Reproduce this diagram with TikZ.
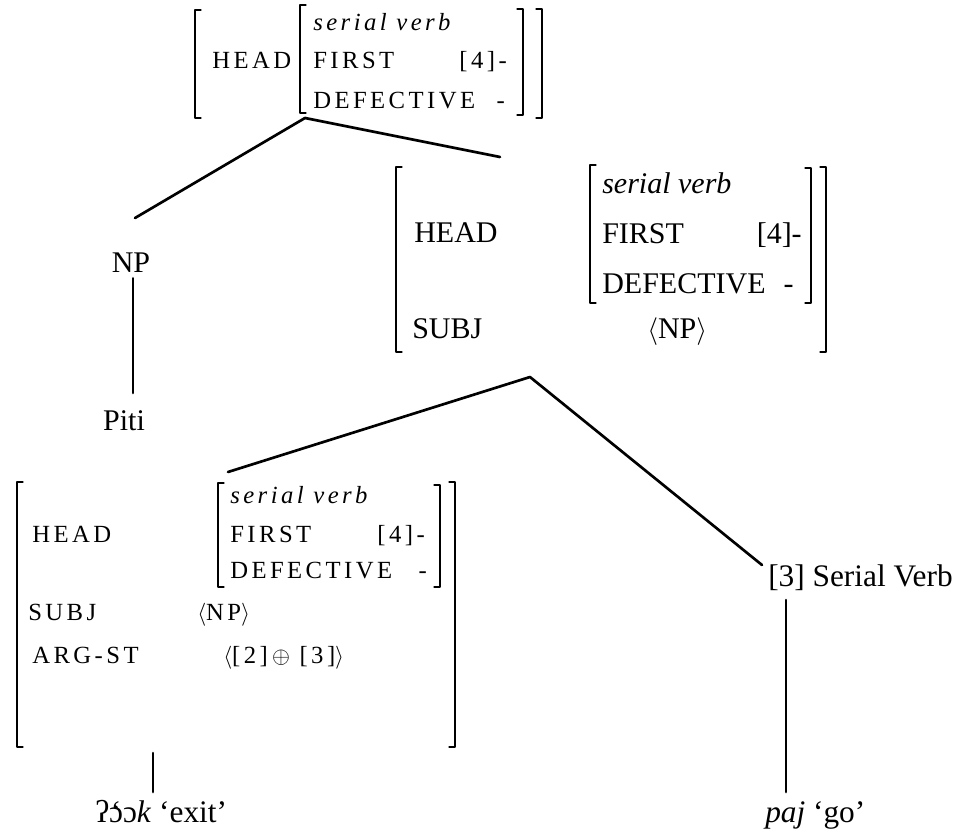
\documentclass[tikz,border=0pt]{standalone}
\usepackage{fontspec}
\setmainfont{Liberation Serif}
\newfontfamily\trackfont[LetterSpace=14]{Liberation Serif}
\begin{document}
\begin{tikzpicture}[x=0.75pt, y=-0.75pt, line join=round, line cap=round,
    big/.style={inner sep=0pt, anchor=base west, font=\fontsize{22.5}{26}\selectfont},
    leaf/.style={big, font=\fontsize{23.5}{27}\selectfont},
    small/.style={inner sep=0pt, anchor=base west, font=\fontsize{18.5}{22}\selectfont\trackfont},
    branch/.style={line width=2pt},
    brk/.style={line width=0.9pt}]
    \def\lbr#1#2#3{\draw[brk] (#1+6,#2) -- (#1,#2) -- (#1,#3) -- (#1+6,#3);}
    \def\rbr#1#2#3{\draw[brk] (#1-6,#2) -- (#1,#2) -- (#1,#3) -- (#1-6,#3);}
    \useasboundingbox (0,0) rectangle (965,833);
    % top AVM
    \lbr{195}{10}{118} \rbr{542}{9}{118}
    \lbr{300}{5}{113} \rbr{523}{9}{115}
    \node[small] (tHead) at (212,68) {HEAD};
    \node[small] (tType) at (313,30) {\itshape serial verb};
    \node[small] (tFirst) at (313,68) {FIRST};
    \node[small, anchor=base east] (tFirstV) at (507,68) {[4]-};
    \node[small] (tDef) at (313,108) {DEFECTIVE};
    \node[small, anchor=base east] (tDefV) at (505,108) {-};
    \coordinate (root) at (305,118);
    % middle AVM
    \lbr{396}{167}{352} \rbr{826}{167}{352}
    \lbr{590}{165}{303} \rbr{811}{168}{303}
    \node[big] (mHead) at (414,242) {HEAD};
    \node[big] (mType) at (602,193) {\itshape serial verb};
    \node[big] (mFirst) at (602,243) {FIRST};
    \node[big, anchor=base east] (mFirstV) at (802,243) {[4]-};
    \node[big] (mDef) at (602,293) {DEFECTIVE};
    \node[big, anchor=base east] (mDefV) at (794,293) {-};
    \node[big] (mSubj) at (412,338) {SUBJ};
    \node[big] (mSubjV) at (647,338) {$\langle$NP$\rangle$};
    \coordinate (vp) at (530,377);
    % bottom AVM
    \lbr{17}{482}{747} \rbr{455}{482}{747}
    \lbr{218}{483}{587} \rbr{440}{485}{587}
    \node[small] (bHead) at (32,542) {HEAD};
    \node[small] (bType) at (230,503) {\itshape serial verb};
    \node[small] (bFirst) at (230,542) {FIRST};
    \node[small, anchor=base east] (bFirstV) at (425,542) {[4]-};
    \node[small] (bDef) at (230,578) {DEFECTIVE};
    \node[small, anchor=base east] (bDefV) at (427,578) {-};
    \node[small] (bSubj) at (28,620) {SUBJ};
    \node[small] (bSubjV) at (197,620) {$\langle$NP$\rangle$};
    \node[small] (bArg) at (32,663) {ARG-ST};
    \node[small] (bArgV) at (223,663) {$\langle$[2]\,$\oplus$\ [3]$\rangle$};
    % leaves
    \node[big, anchor=base] (np) at (131,272) {NP};
    \node[big, anchor=base] (piti) at (124,430) {Piti};
    \node[leaf] (sv) at (768,586) {[3] Serial Verb};
    \node[leaf] (exit) at (95,822) {ʔ\accent"60 ɔɔ\textit{k} ‘exit’};
    \node[leaf] (go) at (765,822) {\textit{paj} ‘go’};
    \coordinate (npTop) at (135,218);
    \coordinate (mTop) at (500,157);
    \coordinate (bTop) at (228,472);
    \coordinate (svTop) at (762,565);
    \coordinate (bFoot) at (153,753);
    \coordinate (svFoot) at (786,600);
    \draw[branch] (npTop) -- (root) -- (mTop);
    \draw[branch] (bTop) -- (vp) -- (svTop);
    \draw[branch] (np.south) ++(2,6) -- (133,393);
    \draw[branch] (bFoot) -- (bFoot |- 0,792);
    \draw[branch] (svFoot) -- (svFoot |- 0,792);
\end{tikzpicture}
\end{document}
